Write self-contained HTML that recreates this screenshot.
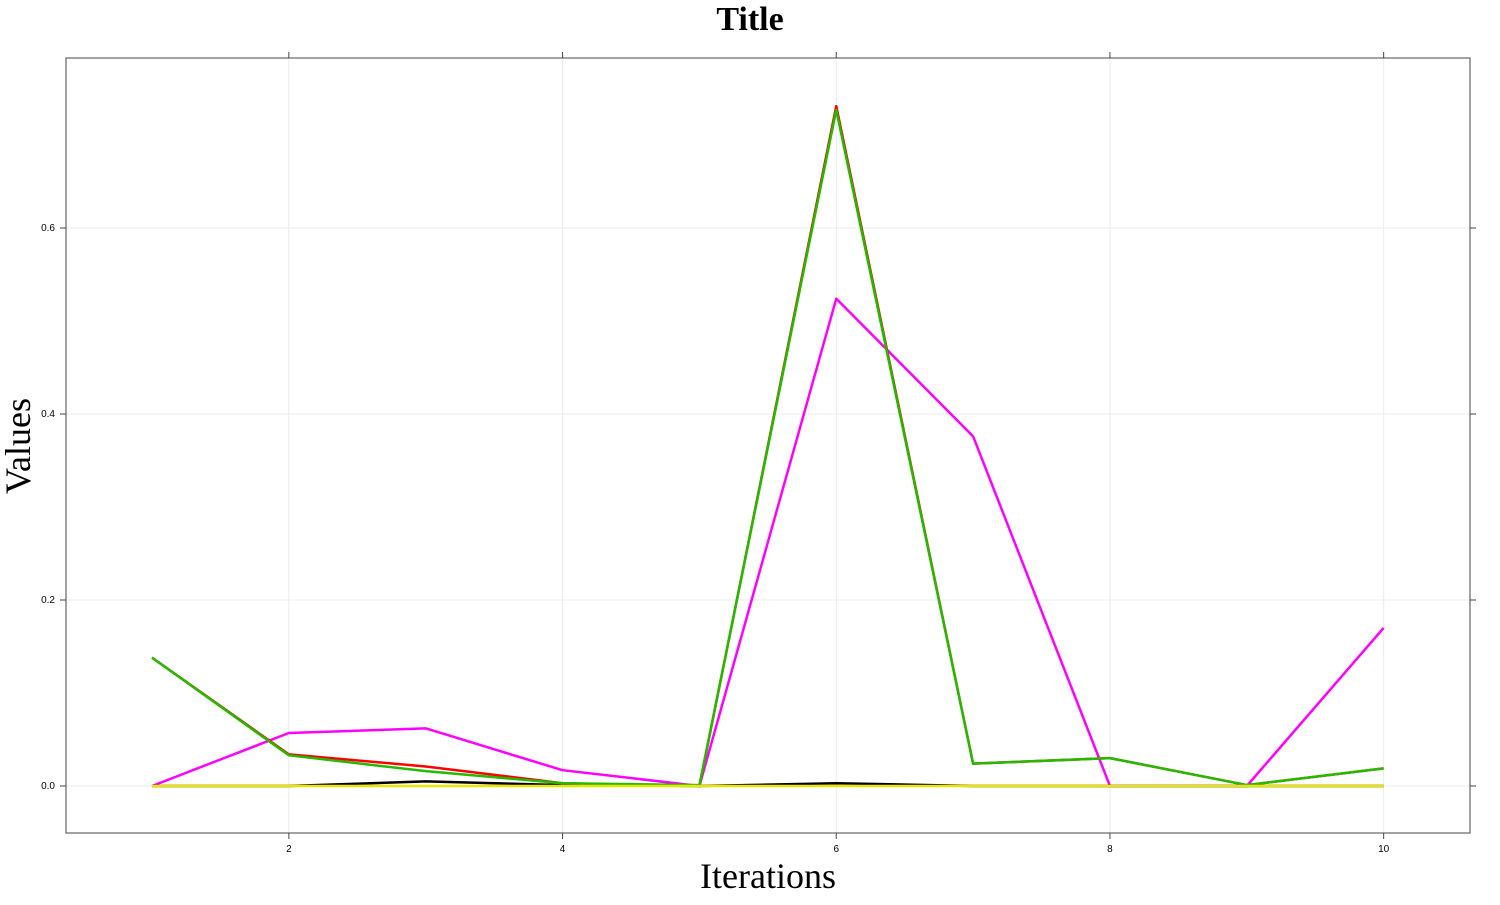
<!DOCTYPE html>
<html><head><meta charset="utf-8"><style>
body{margin:0;background:#fff;}
.serif{font-family:"Liberation Serif",serif;}
</style></head><body>
<svg id="chart" width="1500" height="900">
<text class="serif" x="750" y="30" text-anchor="middle" font-size="34" font-weight="bold">Title</text>
<text class="serif" x="768" y="888" text-anchor="middle" font-size="36">Iterations</text>
<text class="serif" transform="translate(30,446) rotate(-90)" text-anchor="middle" font-size="36">Values</text>
<g id="grid"></g><g id="axes"></g><g id="series"></g>
<rect x="66" y="58" width="1404" height="775" fill="none" stroke="#444" stroke-width="1"/>
</svg>
<script>
const iterations=[1,2,3,4,5,6,7,8,9,10];
const xTicks=[2,4,6,8,10];
const yTicks=[0.0,0.2,0.4,0.6];
const yTickLabels=["0.0","0.2","0.4","0.6"];
const seriesBlack=[0,0,0.005,0.001,0,0.003,0,0,0,0];
const seriesRed=[0.138,0.034,0.021,0.003,0,0.731,0.024,0.030,0.001,0.019];
const seriesGreen=[0.138,0.033,0.016,0.003,0.001,0.727,0.024,0.030,0.001,0.019];
const seriesMagenta=[0,0.057,0.062,0.017,0,0.524,0.376,0,0,0.170];
const seriesYellow=[0,0,0,0,0,0,0,0,0,0];
const NS="http://www.w3.org/2000/svg";
const L=66,R=1470,T=58,B=833;
const xs=v=>152+(v-1)*136.85;
const ys=v=>786-v*930;
function mk(tag,attrs,parent){const e=document.createElementNS(NS,tag);for(const k in attrs)e.setAttribute(k,attrs[k]);document.getElementById(parent).appendChild(e);return e;}
xTicks.forEach(t=>{
 const g=mk('line',{x1:xs(t),x2:xs(t),y1:T,y2:B,stroke:'#ebebeb'},'grid');
 
 
 [[B,B+6],[T-6,T]].forEach(p=>{const k=mk('line',{x1:xs(t),x2:xs(t),y1:p[0],y2:p[1],stroke:'#444'},'axes');
 
 });
 const tx=mk('text',{x:xs(t),y:852,'text-anchor':'middle','font-size':'10',style:'font-family:"Liberation Sans",sans-serif'},'axes');
 tx.textContent=t;
 
 
});
yTicks.forEach((t,i)=>{
 const g=mk('line',{x1:L,x2:R,y1:ys(t),y2:ys(t),stroke:'#ebebeb'},'grid');
 
 
 [[L-6,L],[R,R+6]].forEach(p=>{const k=mk('line',{x1:p[0],x2:p[1],y1:ys(t),y2:ys(t),stroke:'#444'},'axes');
 
 });
 const tx=mk('text',{x:55,y:ys(t)+3,'text-anchor':'end','font-size':'10',style:'font-family:"Liberation Sans",sans-serif'},'axes');
 tx.textContent=yTickLabels[i];
 
 
});
[[seriesMagenta,'#ff00ff','magenta'],[seriesBlack,'#000','black'],[seriesRed,'#ff0000','red'],[seriesGreen,'#22bb00','green'],[seriesYellow,'#e6e600','yellow']].forEach(s=>{
 const pts=s[0].map((v,i)=>xs(iterations[i])+','+ys(v)).join(' ');
 const p=mk('polyline',{points:pts,fill:'none',stroke:s[1],'stroke-width':'2.5','stroke-linejoin':'round'},'series');
 
 
});
</script>
</body></html>
